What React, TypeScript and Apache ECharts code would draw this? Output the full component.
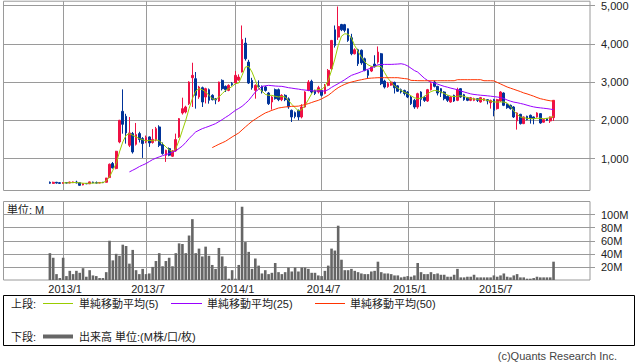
import React, { useEffect, useRef } from "react";
import * as echarts from "echarts";

// ---- time axis: weekly slots (Mondays) ----
const START_YEAR = 2012;
const START_MONTH = 9;
const START_DAY = 3;
const WEEK_COUNT = 178;
const LABEL_MONTHS = [1, 7];

// first week index of each series
const FIRST_CANDLE_WEEK = 14;
const MA5_FIRST_WEEK = 18;
const MA25_FIRST_WEEK = 38;
const MA50_FIRST_WEEK = 63;

// weekly candles: [open, close, low, high]
const CANDLES = [
  [380, 355, 340, 400], [350, 380, 340, 395], [380, 360, 345, 390], [370, 350, 340, 385], [350, 372, 345, 385],
  [372, 360, 350, 380], [360, 385, 355, 395], [370, 390, 360, 400], [385, 365, 350, 420], [370, 300, 290, 375],
  [310, 345, 300, 360], [350, 340, 330, 360], [340, 390, 335, 400], [385, 365, 355, 395], [370, 360, 350, 400],
  [360, 375, 355, 385], [380, 370, 360, 390], [380, 490, 375, 495], [503, 851, 495, 870], [870, 756, 740, 910],
  [738, 1190, 720, 1200], [1434, 2000, 1400, 2010], [2234, 1895, 1650, 2808], [2104, 1669, 1390, 2170], [1347, 1669, 1300, 2086],
  [1652, 1173, 1130, 1695], [1373, 1626, 1340, 1930], [1652, 1496, 1420, 1700], [1521, 1391, 1017, 1560], [1434, 1547, 1400, 1600],
  [1565, 1408, 1304, 1580], [1420, 1500, 1390, 1770], [1478, 1782, 1450, 1826], [1826, 1347, 1300, 1870], [1365, 1130, 1100, 1420],
  [1087, 1217, 912, 1230], [1260, 1087, 1060, 1290], [1060, 1200, 1040, 1220], [1200, 1495, 1180, 1652], [1565, 2043, 1540, 2060],
  [2191, 2304, 2150, 2591], [2217, 2347, 2180, 2380], [2434, 3000, 2400, 3020], [3113, 3174, 2348, 3504], [3087, 2652, 2304, 3261],
  [2608, 2869, 2560, 2900], [2852, 2478, 2348, 2880], [2608, 2826, 2440, 2850], [2800, 2522, 2434, 2830], [2652, 2539, 2520, 2680],
  [2560, 2530, 2420, 2580], [2504, 3000, 2480, 3010], [3043, 2826, 2780, 3070], [2887, 2800, 2740, 2910], [2782, 2913, 2760, 2940],
  [2960, 2930, 2900, 3000], [2974, 3174, 2950, 3287], [3050, 3130, 3030, 3200], [3261, 4113, 3250, 4478], [4017, 3609, 3560, 4156],
  [3521, 2974, 2950, 3580], [3043, 2852, 2800, 3110], [2782, 2913, 2565, 2940], [2900, 2880, 2850, 3043], [2887, 2739, 2700, 2910],
  [2870, 2780, 2750, 2900], [2713, 2434, 2400, 2740], [2478, 2608, 2278, 2630], [2800, 2565, 2540, 2830], [2800, 2539, 2500, 2830],
  [2539, 2652, 2500, 2680], [2652, 2539, 2500, 2680], [2560, 2350, 2300, 2600], [2260, 2087, 1956, 2280], [2200, 2100, 2050, 2230],
  [2260, 2087, 2000, 2280], [2087, 2348, 2050, 2420], [2348, 2739, 2330, 2760], [2782, 3000, 2760, 3050], [3017, 2739, 2700, 3060],
  [2780, 2700, 2660, 2800], [2739, 2852, 2700, 2900], [2782, 2652, 2620, 2800], [2700, 2887, 2680, 2950], [2913, 3304, 2890, 3340],
  [3348, 4087, 3300, 4100], [4365, 3957, 3900, 4478], [4174, 4452, 4100, 4974], [4504, 4365, 4330, 4520], [4500, 4350, 4300, 4520],
  [4391, 4087, 4050, 4400], [4156, 3739, 3700, 4260], [3739, 3843, 3720, 3880], [3843, 3478, 3420, 3870], [3830, 3500, 3450, 3850],
  [3609, 3304, 3280, 3640], [3304, 3174, 3087, 3330], [3287, 3391, 3260, 3420], [3470, 3400, 3380, 3700], [3521, 3783, 3480, 3930],
  [3739, 2956, 2920, 3760], [3026, 2869, 2830, 3060], [2880, 2960, 2850, 3000], [2920, 3000, 2900, 3030], [2990, 2850, 2700, 3010],
  [2900, 2760, 2740, 2920], [2800, 2739, 2700, 2830], [2780, 2700, 2650, 2800], [2739, 2608, 2580, 2760], [2609, 2434, 2400, 2640],
  [2522, 2347, 2300, 2560], [2347, 2695, 2300, 2720], [2739, 2548, 2365, 2760], [2600, 2520, 2480, 2640], [2504, 2800, 2480, 2820],
  [2800, 2956, 2780, 3000], [3000, 2887, 2860, 3043], [2887, 2713, 2650, 2900], [2826, 2713, 2608, 2840], [2739, 2565, 2522, 2760],
  [2626, 2521, 2480, 2650], [2478, 2609, 2460, 2630], [2652, 2504, 2480, 2670], [2521, 2800, 2500, 2852], [2826, 2609, 2590, 2840],
  [2669, 2539, 2510, 2690], [2591, 2521, 2500, 2610], [2521, 2591, 2500, 2610], [2521, 2565, 2500, 2590], [2565, 2521, 2478, 2580],
  [2478, 2591, 2460, 2610], [2521, 2565, 2500, 2580], [2539, 2504, 2417, 2550], [2460, 2521, 2304, 2540], [2539, 2260, 2104, 2560],
  [2304, 2539, 2280, 2560], [2504, 2739, 2480, 2760], [2713, 2391, 2370, 2730], [2417, 2330, 2300, 2440], [2391, 2304, 2280, 2410],
  [2348, 2087, 2060, 2370], [1982, 2191, 1756, 2210], [2156, 1913, 1890, 2170], [1913, 2087, 1900, 2100], [2104, 2017, 2000, 2120],
  [2130, 2043, 1913, 2150], [2087, 2043, 1895, 2100], [2087, 2191, 2070, 2210], [2174, 1930, 1910, 2190], [1950, 2017, 1940, 2040],
  [2043, 2000, 1980, 2060], [1982, 2087, 1930, 2100], [2069, 2522, 1982, 2530],
];

// weekly volume (M)
const VOLUME = [
  41, 34, 9, 3, 34, 6, 14, 9, 14, 11,
  18, 5, 15, 7, 6, 3, 3, 12, 60, 30,
  40, 37, 54, 52, 25, 46, 15, 9, 17, 9,
  10, 20, 29, 41, 21, 29, 34, 21, 41, 56,
  55, 41, 68, 93, 41, 48, 36, 51, 37, 23,
  17, 49, 36, 21, 2, 15, 2, 23, 112, 58,
  43, 17, 33, 22, 10, 15, 9, 11, 26, 12,
  9, 12, 19, 13, 19, 13, 19, 19, 17, 11,
  11, 7, 6, 14, 22, 48, 45, 83, 31, 15,
  15, 17, 14, 12, 10, 9, 9, 13, 14, 28,
  12, 10, 10, 9, 7, 7, 4, 5, 6, 5,
  7, 26, 12, 9, 9, 12, 9, 10, 8, 8,
  5, 5, 8, 17, 4, 4, 5, 5, 8, 4,
  4, 4, 4, 4, 7, 5, 7, 10, 5, 4,
  7, 9, 4, 4, 2, 2, 3, 5, 4, 4,
  4, 4, 28,
];

const MA5 = [
  364, 364, 368, 372, 375, 365, 355, 350, 355, 360,
  362, 365, 370, 417, 521, 695, 869, 1173, 1434, 1608,
  1652, 1608, 1565, 1521, 1495, 1460, 1478, 1460, 1495, 1460,
  1391, 1304, 1230, 1173, 1260, 1478, 1739, 2000, 2304, 2565,
  2765, 2826, 2800, 2739, 2652, 2565, 2539, 2609, 2695, 2782,
  2826, 2887, 2956, 2974, 3174, 3391, 3409, 3261, 3043, 2826,
  2765, 2678, 2652, 2652, 2626, 2609, 2626, 2609, 2521, 2417,
  2330, 2243, 2278, 2391, 2539, 2695, 2782, 2800, 2800, 2887,
  3043, 3304, 3600, 3950, 4200, 4261, 4250, 4150, 3950, 3800,
  3650, 3530, 3450, 3410, 3400, 3420, 3400, 3250, 3100, 2990,
  2900, 2840, 2780, 2730, 2695, 2640, 2590, 2565, 2580, 2620,
  2690, 2750, 2780, 2770, 2740, 2700, 2660, 2630, 2620, 2626,
  2643, 2626, 2591, 2565, 2556, 2548, 2548, 2539, 2521, 2504,
  2478, 2478, 2478, 2478, 2452, 2365, 2243, 2156, 2087, 2069,
  2052, 2043, 2043, 2052, 2052, 2043, 2052, 2069, 2104,
];

const MA25 = [
  651, 695, 739, 790, 830, 869, 920, 973, 1010, 1043,
  1075, 1104, 1130, 1170, 1200, 1265, 1330, 1420, 1521, 1610,
  1695, 1740, 1782, 1812, 1843, 1878, 1913, 1965, 2017, 2075,
  2130, 2195, 2260, 2310, 2365, 2440, 2521, 2630, 2739, 2810,
  2887, 2900, 2913, 2905, 2895, 2890, 2887, 2870, 2852, 2840,
  2826, 2815, 2800, 2790, 2780, 2772, 2765, 2765, 2765, 2765,
  2800, 2860, 2910, 2956, 3010, 3061, 3120, 3174, 3205, 3235,
  3270, 3304, 3335, 3365, 3410, 3452, 3458, 3461, 3461, 3461,
  3465, 3470, 3478, 3460, 3420, 3360, 3300, 3260, 3180, 3100,
  3040, 3000, 2974, 2945, 2915, 2887, 2865, 2840, 2820, 2800,
  2765, 2740, 2715, 2690, 2675, 2665, 2655, 2648, 2640, 2630,
  2620, 2608, 2595, 2570, 2530, 2500, 2475, 2460, 2440, 2420,
  2395, 2370, 2350, 2335, 2325, 2315, 2305, 2292, 2278,
];

const MA50 = [
  1286, 1330, 1373, 1412, 1452, 1508, 1565, 1617, 1669, 1748,
  1826, 1900, 1973, 2030, 2087, 2140, 2191, 2225, 2260, 2290,
  2321, 2335, 2348, 2356, 2365, 2365, 2370, 2390, 2410, 2435,
  2465, 2495, 2521, 2560, 2605, 2652, 2720, 2790, 2852, 2900,
  2940, 2974, 3000, 3020, 3043, 3060, 3078, 3095, 3102, 3108,
  3113, 3113, 3113, 3113, 3113, 3113, 3113, 3100, 3090, 3080,
  3043, 3040, 3036, 3034, 3034, 3034, 3034, 3034, 3034, 3034,
  3034, 3034, 3034, 3034, 3061, 3061, 3061, 3061, 3061, 3061,
  3061, 3061, 3034, 3034, 3034, 3030, 2990, 2950, 2910, 2870,
  2840, 2810, 2780, 2750, 2715, 2690, 2660, 2630, 2595, 2565,
  2545, 2525, 2510, 2500,
];

const PRICE_TICKS = [1000, 2000, 3000, 4000, 5000];
const VOLUME_TICKS = [20, 40, 60, 80, 100];

const LEGEND_TOP = ["上段:", "単純移動平均(5)", "単純移動平均(25)", "単純移動平均(50)"];
const LEGEND_BOTTOM = ["下段:", "出来高 単位:(M株/口/枚)"];
const UNIT_LABEL = "単位: M";
const COPYRIGHT = "(c)Quants Research Inc.";

// ---- styles ----
const FONT = "'Liberation Sans', 'Noto Sans CJK JP', sans-serif";
const GRID_COLOR = "#9a9a9a";
const TEXT_COLOR = "#222";
const UP_COLOR = "#ee1144";
const DOWN_COLOR = "#003399";
const MA5_COLOR = "#99cc00";
const MA25_COLOR = "#9900ff";
const MA50_COLOR = "#ff3300";
const VOLUME_COLOR = "#666666";

function buildCategories(): string[] {
  const out: string[] = [];
  const t0 = Date.UTC(START_YEAR, START_MONTH - 1, START_DAY);
  for (let i = 0; i < WEEK_COUNT; i++) {
    const d = new Date(t0 + i * 7 * 86400000);
    out.push(`${d.getUTCFullYear()}/${d.getUTCMonth() + 1}/${d.getUTCDate()}`);
  }
  return out;
}

function pad<T>(arr: T[], first: number, empty: any): any[] {
  const out: any[] = [];
  for (let i = 0; i < WEEK_COUNT; i++) {
    const k = i - first;
    out.push(k >= 0 && k < arr.length ? arr[k] : empty);
  }
  return out;
}

export default function App() {
  const ref = useRef<HTMLDivElement>(null);

  useEffect(() => {
    if (!ref.current) return;
    const chart = echarts.init(ref.current, null, { renderer: "svg" });
    const categories = buildCategories();
    const lastDataWeek = FIRST_CANDLE_WEEK + CANDLES.length - 1;
    const isHalfYearStart = (i: number) => {
      if (i > lastDataWeek) return false;
      const parts = categories[i].split("/").map(Number);
      return LABEL_MONTHS.indexOf(parts[1]) >= 0 && parts[2] <= 7;
    };
    const intervalFn = (index: number) => isHalfYearStart(index);

    const textStyle = (x: number, y: number, text: string, align = "left", fill = TEXT_COLOR) => ({
      type: "text",
      x,
      y,
      silent: true,
      style: {
        text,
        fill,
        font: `11px ${FONT}`,
        fontSize: 11,
        fontFamily: FONT,
        textAlign: align,
        align,
        textVerticalAlign: "middle",
        verticalAlign: "middle",
      },
    });
    const legendLine = (x1: number, x2: number, y: number, color: string, w = 1) => ({
      type: "line",
      silent: true,
      shape: { x1, y1: y, x2, y2: y },
      style: { stroke: color, lineWidth: w },
    });

    const row1 = 303.5;
    const row2 = 336.5;

    const option: any = {
      animation: false,
      backgroundColor: "#ffffff",
      textStyle: { fontFamily: FONT },
      grid: [
        { left: 3.5, top: 0.5, width: 586.5, height: 190, show: true, borderColor: GRID_COLOR, borderWidth: 1 },
        { left: 3.5, top: 201.5, width: 586.5, height: 78.5, show: true, borderColor: GRID_COLOR, borderWidth: 1 },
      ],
      xAxis: [
        {
          type: "category",
          gridIndex: 0,
          data: categories,
          boundaryGap: false,
          axisLine: { show: false },
          axisTick: { show: false },
          axisLabel: { show: false },
          splitLine: { show: true, interval: intervalFn, lineStyle: { color: GRID_COLOR, width: 1 } },
        },
        {
          type: "category",
          gridIndex: 1,
          data: categories,
          boundaryGap: false,
          axisLine: { show: false },
          axisTick: { show: false },
          axisLabel: {
            show: true,
            interval: intervalFn,
            formatter: (v: string) => {
              const p = v.split("/");
              return `${p[0]}/${p[1]}`;
            },
            color: TEXT_COLOR,
            fontSize: 11,
            fontFamily: FONT,
            margin: 3,
            padding: [0, 0, 0, 4],
          },
          splitLine: { show: true, interval: intervalFn, lineStyle: { color: GRID_COLOR, width: 1 } },
        },
      ],
      yAxis: [
        {
          type: "value",
          gridIndex: 0,
          position: "right",
          min: 165,
          max: 5112,
          splitNumber: 5,
          minInterval: 1000,
          maxInterval: 1000,
          axisLine: { show: false },
          axisTick: { show: true, length: 5, lineStyle: { color: GRID_COLOR }, customValues: PRICE_TICKS },
          axisLabel: {
            customValues: PRICE_TICKS,
            formatter: (v: number) => Number(v).toLocaleString("en-US"),
            color: TEXT_COLOR,
            fontSize: 11,
            fontFamily: FONT,
            margin: 11,
          },
          splitLine: { show: true, lineStyle: { color: GRID_COLOR, width: 1 } },
        },
        {
          type: "value",
          gridIndex: 1,
          position: "right",
          min: 0,
          max: 120,
          interval: 20,
          axisLine: { show: false },
          axisTick: { show: true, length: 5, lineStyle: { color: GRID_COLOR }, customValues: VOLUME_TICKS },
          axisLabel: {
            customValues: VOLUME_TICKS,
            formatter: (v: number) => `${v}M`,
            color: TEXT_COLOR,
            fontSize: 11,
            fontFamily: FONT,
            margin: 11,
          },
          splitLine: { show: true, lineStyle: { color: GRID_COLOR, width: 1 } },
        },
      ],
      series: [
        {
          name: "株価",
          type: "candlestick",
          xAxisIndex: 0,
          yAxisIndex: 0,
          barWidth: 2.2,
          data: pad(CANDLES, FIRST_CANDLE_WEEK, ["-", "-", "-", "-"]),
          itemStyle: {
            color: UP_COLOR,
            color0: DOWN_COLOR,
            borderColor: UP_COLOR,
            borderColor0: DOWN_COLOR,
            borderWidth: 1,
          },
        },
        {
          name: LEGEND_TOP[1],
          type: "line",
          xAxisIndex: 0,
          yAxisIndex: 0,
          symbol: "none",
          showSymbol: false,
          data: pad(MA5, MA5_FIRST_WEEK, "-"),
          lineStyle: { color: MA5_COLOR, width: 1 },
          z: 3,
        },
        {
          name: LEGEND_TOP[2],
          type: "line",
          xAxisIndex: 0,
          yAxisIndex: 0,
          symbol: "none",
          showSymbol: false,
          data: pad(MA25, MA25_FIRST_WEEK, "-"),
          lineStyle: { color: MA25_COLOR, width: 1 },
          z: 3,
        },
        {
          name: LEGEND_TOP[3],
          type: "line",
          xAxisIndex: 0,
          yAxisIndex: 0,
          symbol: "none",
          showSymbol: false,
          data: pad(MA50, MA50_FIRST_WEEK, "-"),
          lineStyle: { color: MA50_COLOR, width: 1 },
          z: 3,
        },
        {
          name: "出来高",
          type: "bar",
          xAxisIndex: 1,
          yAxisIndex: 1,
          barWidth: 2.6,
          data: pad(VOLUME, FIRST_CANDLE_WEEK, "-"),
          itemStyle: { color: VOLUME_COLOR },
        },
      ],
      graphic: [
        textStyle(7, 209.5, UNIT_LABEL),
        {
          type: "rect",
          silent: true,
          shape: { x: 3.5, y: 295.5, width: 631, height: 50 },
          style: { fill: "none", stroke: "#000", lineWidth: 1 },
        },
        textStyle(11, row1, LEGEND_TOP[0]),
        legendLine(43, 73, row1, MA5_COLOR),
        textStyle(79, row1, LEGEND_TOP[1]),
        legendLine(171, 202, row1, MA25_COLOR),
        textStyle(207, row1, LEGEND_TOP[2]),
        legendLine(315, 345, row1, MA50_COLOR),
        textStyle(350, row1, LEGEND_TOP[3]),
        textStyle(11, row2, LEGEND_BOTTOM[0]),
        legendLine(43, 73, row2, VOLUME_COLOR, 4),
        textStyle(79, row2, LEGEND_BOTTOM[1]),
        textStyle(617, 355.5, COPYRIGHT, "right", "#444"),
      ],
    };

    chart.setOption(option);
    return () => chart.dispose();
  }, []);

  return (
    <div
      style={{ position: "absolute", left: 0, top: 0, width: 638, height: 362, background: "#fff" }}
    >
      <div ref={ref} style={{ width: 638, height: 362 }} />
    </div>
  );
}
